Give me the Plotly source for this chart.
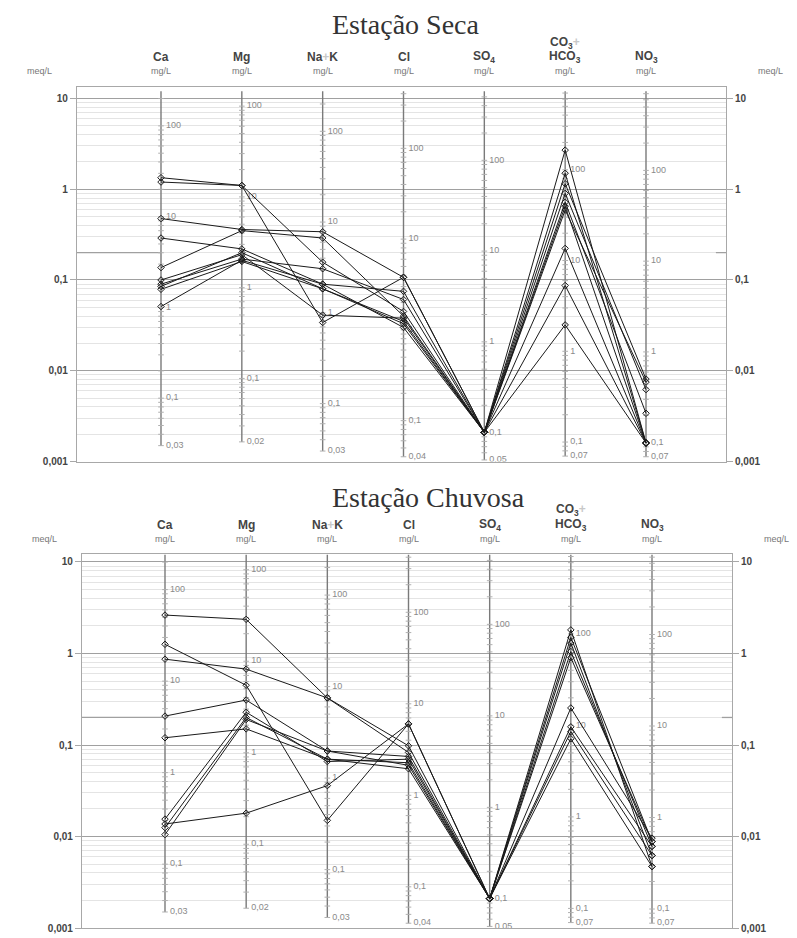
import plotly.graph_objects as go

# ---------------------------------------------------------------- data
ions = ["Ca", "Mg", "Na+K", "Cl", "SO4", "HCO3", "NO3"]
ion_headers = ["Ca", "Mg", "Na<span style='color:#c8c8c8'>+</span>K", "Cl",
               "SO<sub>4</sub>", "HCO<sub>3</sub>", "NO<sub>3</sub>"]
# equivalent weights (mg per meq) used for the mg/L scales
eq_weight = [20.04, 12.15, 23.0, 35.45, 48.03, 61.02, 62.0]
# lowest mg/L value printed at the foot of each ion scale
scale_min_mg = [0.03, 0.02, 0.03, 0.04, 0.05, 0.07, 0.07]
scale_min_txt = ["0,03", "0,02", "0,03", "0,04", "0,05", "0,07", "0,07"]
scale_decades_mg = [100, 10, 1, 0.1]
scale_decades_txt = ["100", "10", "1", "0,1"]

meq_ticks = [0.001, 0.01, 0.1, 1, 10]
meq_ticktext = ["0,001", "0,01", "0,1", "1", "10"]

# dry season samples (meq/L): Ca, Mg, Na+K, Cl, SO4, HCO3, NO3
seca = [
    [1.34, 1.10, 0.157, 0.045, 0.0021, 2.70, 0.0016],
    [1.20, 1.10, 0.034, 0.107, 0.0021, 1.50, 0.0016],
    [0.475, 0.36, 0.34, 0.107, 0.0021, 1.15, 0.0081],
    [0.29, 0.22, 0.090, 0.075, 0.0021, 0.90, 0.0062],
    [0.137, 0.35, 0.29, 0.040, 0.0021, 0.72, 0.0034],
    [0.100, 0.19, 0.041, 0.038, 0.0021, 0.65, 0.0016],
    [0.090, 0.17, 0.133, 0.061, 0.0021, 0.59, 0.0075],
    [0.079, 0.16, 0.080, 0.033, 0.0021, 0.223, 0.0016],
    [0.051, 0.165, 0.090, 0.030, 0.0021, 0.087, 0.0016],
    [0.085, 0.20, 0.080, 0.035, 0.0021, 0.032, 0.0016],
]

# rainy season samples (meq/L)
chuvosa = [
    [2.63, 2.36, 0.327, 0.098, 0.0021, 1.81, 0.0047],
    [1.26, 0.45, 0.015, 0.170, 0.0021, 1.50, 0.0088],
    [0.867, 0.675, 0.327, 0.083, 0.0021, 1.30, 0.0062],
    [0.207, 0.31, 0.086, 0.075, 0.0021, 1.05, 0.0078],
    [0.120, 0.15, 0.070, 0.064, 0.0021, 0.254, 0.0096],
    [0.0155, 0.228, 0.066, 0.070, 0.0021, 0.158, 0.0078],
    [0.0137, 0.018, 0.036, 0.170, 0.0021, 0.140, 0.0062],
    [0.0105, 0.19, 0.086, 0.060, 0.0021, 0.117, 0.0047],
    [0.0125, 0.20, 0.070, 0.055, 0.0021, 0.90, 0.0088],
]

ref_line_meq = 0.2      # reference level drawn between the frame and the Ca scale
scale_top_meq = 12.0    # upper end of the ion scales

# ---------------------------------------------------------------- layout helpers
W, H = 797, 938


def fx(px):
    return px / W


def fy(py):
    return 1 - py / H


pos = list(range(1, len(ions) + 1))

# panel geometry in pixels: frame box, first / last ion column, decade rows
panels = {
    "seca": dict(left=77, right=726, top=87, bottom=464, y10=99,
                 first=161, last=646, title="Estação Seca", title_y=25,
                 title_x=330, name_y=57, unit_y=71, co3_y=43,
                 xa="x", ya="y", yr="y3", data=seca),
    "chuvosa": dict(left=82, right=732, top=557, bottom=933, y10=565,
                    first=165, last=652, title="Estação Chuvosa", title_y=500,
                    title_x=330, name_y=528, unit_y=542, co3_y=513,
                    xa="x2", ya="y2", yr="y4", data=chuvosa),
}

fig = go.Figure()
annotations = []
minor_vals = [m * 10 ** e for e in range(-3, 1) for m in range(2, 10)]

AX_GRAY = "#a8a8a8"
LINE_COL = "#1a1a1a"
LABEL_COL = "#8a8a8a"
TXT_COL = "#444444"

for key, p in panels.items():
    step = (p["last"] - p["first"]) / (len(ions) - 1)
    x_lo = 1 - (p["first"] - p["left"]) / step
    x_hi = len(ions) + (p["right"] - p["last"]) / step
    dec = (p["bottom"] - p["y10"]) / 4.0
    y_hi = 1 + (p["y10"] - p["top"]) / dec

    xa, ya, yr = p["xa"], p["ya"], p["yr"]
    xname = "xaxis" + xa[1:]
    yname = "yaxis" + ya[1:]
    rname = "yaxis" + yr[1:]

    fig.layout[xname] = dict(
        domain=[fx(p["left"]), fx(p["right"])], range=[x_lo, x_hi],
        showticklabels=False, showgrid=False, zeroline=False,
        showline=True, mirror=True, linecolor=AX_GRAY, linewidth=1.2,
        anchor=ya, fixedrange=True)
    common_y = dict(
        type="log", domain=[fy(p["bottom"]), fy(p["top"])], range=[-3, y_hi],
        tickmode="array", tickvals=meq_ticks, ticktext=meq_ticktext,
        ticks="outside", ticklen=6, tickcolor=AX_GRAY, tickwidth=1.2,
        tickfont=dict(family="Arial, Liberation Sans", size=10, color=TXT_COL,
                      weight="bold"),
        zeroline=False, fixedrange=True)
    fig.layout[yname] = dict(
        **common_y, anchor=xa, side="left",
        showgrid=True, gridcolor="#a0a0a0", gridwidth=1.3,
        minor=dict(tickvals=minor_vals, showgrid=True, gridcolor="#e4e4e4",
                   gridwidth=1, ticks=""),
        showline=True, mirror=True, linecolor=AX_GRAY, linewidth=1.2)
    fig.layout[rname] = dict(
        **common_y, anchor=xa, side="right", overlaying=ya,
        showgrid=False, showline=False)

    # reference level at 0.2 meq/L: left segment plus short mark on the right
    fig.add_trace(go.Scatter(
        x=[x_lo, 1], y=[ref_line_meq, ref_line_meq], mode="lines",
        line=dict(color="#a0a0a0", width=1.3), xaxis=xa, yaxis=ya,
        hoverinfo="skip", showlegend=False))
    fig.add_trace(go.Scatter(
        x=[x_hi - 0.125, x_hi], y=[ref_line_meq, ref_line_meq], mode="lines",
        line=dict(color="#a0a0a0", width=1.3), xaxis=xa, yaxis=yr,
        hoverinfo="skip", showlegend=False))

    # ion scales: vertical line, mg/L minor ticks and labels
    for i, ion in enumerate(ions):
        w = eq_weight[i]
        lo = scale_min_mg[i] / w
        fig.add_trace(go.Scatter(
            x=[pos[i], pos[i]], y=[lo, scale_top_meq], mode="lines",
            line=dict(color="#7a7a7a", width=1.4), xaxis=xa, yaxis=ya,
            hoverinfo="skip", showlegend=False))
        ticks_mg = [m * 10 ** e for e in range(-2, 3) for m in range(1, 10)]
        ticks_meq = [t / w for t in ticks_mg
                     if t / w >= lo and t / w <= scale_top_meq]
        fig.add_trace(go.Scatter(
            x=[pos[i]] * len(ticks_meq), y=ticks_meq, mode="markers",
            marker=dict(symbol="line-ew", size=4,
                        line=dict(color="#b0b0b0", width=1)),
            xaxis=xa, yaxis=ya, hoverinfo="skip", showlegend=False))
        lab_y = [v / w for v in scale_decades_mg] + [lo]
        lab_t = ["\u00a0\u00a0" + t for t in scale_decades_txt + [scale_min_txt[i]]]
        fig.add_trace(go.Scatter(
            x=[pos[i]] * len(lab_y), y=lab_y, mode="text", text=lab_t,
            textposition="middle right",
            textfont=dict(family="Arial, Liberation Sans", size=9, color=LABEL_COL),
            xaxis=xa, yaxis=ya, hoverinfo="skip", showlegend=False))

    # sample profiles
    for s in p["data"]:
        fig.add_trace(go.Scatter(
            x=pos, y=s, mode="lines+markers",
            line=dict(color=LINE_COL, width=1),
            marker=dict(symbol="diamond-open", size=5,
                        line=dict(color=LINE_COL, width=1)),
            xaxis=xa, yaxis=ya, showlegend=False,
            hovertemplate="%{y}<extra></extra>"))

    # title
    annotations.append(dict(
        text=p["title"], xref="paper", yref="paper",
        x=fx(p["title_x"]), y=fy(p["title_y"]), xanchor="left", yanchor="middle",
        showarrow=False,
        font=dict(family="Liberation Serif, Times New Roman, serif", size=28,
                  color="#333333")))

    # column headers
    for i, head in enumerate(ion_headers):
        annotations.append(dict(
            text=head, xref=xa, yref="paper", x=pos[i], y=fy(p["name_y"]),
            xanchor="center", yanchor="middle", showarrow=False,
            font=dict(family="Arial, Liberation Sans", size=12, color=TXT_COL,
                      weight="bold")))
        annotations.append(dict(
            text="mg/L", xref=xa, yref="paper", x=pos[i], y=fy(p["unit_y"]),
            xanchor="center", yanchor="middle", showarrow=False,
            font=dict(family="Arial, Liberation Sans", size=9, color="#777777")))
    annotations.append(dict(
        text="CO<sub>3</sub><span style='color:#c8c8c8'>+</span>",
        xref=xa, yref="paper", x=pos[ions.index("HCO3")], y=fy(p["co3_y"]),
        xanchor="center", yanchor="middle", showarrow=False,
        font=dict(family="Arial, Liberation Sans", size=12, color=TXT_COL,
                  weight="bold")))
    for side_x in (fx(p["left"] - 38), fx(p["right"] + 44)):
        annotations.append(dict(
            text="meq/L", xref="paper", yref="paper", x=side_x,
            y=fy(p["unit_y"]), xanchor="center", yanchor="middle",
            showarrow=False,
            font=dict(family="Arial, Liberation Sans", size=9, color="#777777")))

fig.update_layout(
    width=W, height=H, autosize=False,
    margin=dict(l=0, r=0, t=0, b=0),
    paper_bgcolor="white", plot_bgcolor="white",
    separators=",.", showlegend=False, hovermode="closest",
    annotations=annotations)

fig.write_html("out.html")
